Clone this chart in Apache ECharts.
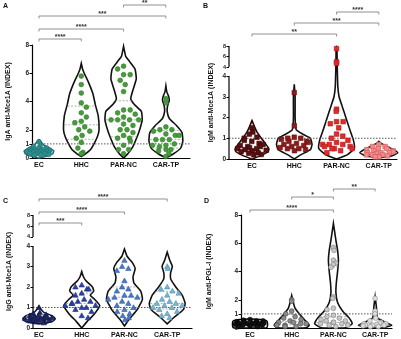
<!DOCTYPE html>
<html><head><meta charset="utf-8">
<script src="https://cdn.jsdelivr.net/npm/echarts@6/dist/echarts.min.js"></script>
<style>html,body{margin:0;padding:0;background:#fff}#c{width:401px;height:339px}</style>
</head><body><div id="c"></div>
<script>
// ---------- data ----------
const categories = ['EC', 'HHC', 'PAR-NC', 'CAR-TP'];
const panelLetters = ['A', 'B', 'C', 'D'];
const yTitles = ['IgA anti-Mce1A (INDEX)', 'IgM anti-Mce1A (INDEX)', 'IgG anti-Mce1A (INDEX)', 'IgM anti-PGL-I (INDEX)'];
const cutoff = 1;
const yTicksPlain = [0, 1, 2, 4, 6, 8];
const yTicksLower = [0, 1, 2, 3, 4];
const yTicksUpper = [4, 6, 8];

// Panel A: IgA anti-Mce1A
const aEC  = [1.15, 0.85, 0.8, 0.72, 0.68, 0.62, 0.6, 0.57, 0.55, 0.52, 0.5, 0.48, 0.46, 0.44, 0.42, 0.4, 0.38, 0.35, 0.33, 0.3, 0.28, 0.25, 0.22, 0.2];
const aHHC = [5.8, 5.2, 4.6, 3.9, 3.6, 3.2, 2.9, 2.6, 2.5, 2.2, 2.0, 1.9, 1.6, 1.4, 1.1, 0.7, 0.4, 0.3];
const aPAR = [6.5, 6.3, 5.9, 5.9, 5.5, 5.2, 4.7, 3.4, 3.4, 3.2, 3.1, 2.9, 2.7, 2.7, 2.7, 2.7, 2.4, 2.3, 2.0, 2.0, 1.8, 1.6, 1.4, 1.4, 1.2, 0.9, 0.6, 0.6, 0.3];
const aCAR = [4.2, 3.9, 2.2, 2.0, 2.0, 1.9, 1.7, 1.6, 1.6, 1.3, 1.3, 1.3, 1.0, 0.9, 0.9, 0.8, 0.6, 0.6, 0.5, 0.3, 0.1];
// violin outlines: [value, half width in category units]
const aECViolin  = [[0,0],[0.1,0.15],[0.3,0.32],[0.5,0.35],[0.7,0.25],[0.9,0.12],[1.1,0.06],[1.3,0]];
const aHHCViolin = [[0.1,0],[0.3,0.1],[0.6,0.22],[1.0,0.3],[1.5,0.38],[2.0,0.42],[3.0,0.4],[3.8,0.33],[4.5,0.28],[5.0,0.22],[5.5,0.15],[6.0,0.07],[6.3,0.03],[6.7,0]];
const aPARViolin = [[0,0],[0.3,0.1],[0.8,0.22],[1.5,0.32],[2.0,0.38],[2.7,0.44],[3.3,0.42],[3.8,0.25],[4.2,0.17],[4.8,0.22],[5.6,0.3],[6.3,0.27],[6.8,0.15],[7.2,0.05],[7.6,0.02],[7.9,0]];
const aCARViolin = [[0,0],[0.3,0.18],[0.7,0.35],[1.2,0.4],[1.8,0.38],[2.3,0.25],[2.8,0.08],[3.3,0.03],[3.7,0.04],[4.1,0.08],[4.4,0.06],[4.7,0.02],[5.1,0]];
const aBrackets = [[0,1,'****'],[0,2,'****'],[0,3,'***'],[2,3,'**']];

// Panel B: IgM anti-Mce1A
const bEC  = [1.5, 1.3, 1.2, 1.05, 1.0, 0.9, 0.85, 0.75, 0.7, 0.65, 0.6, 0.6, 0.55, 0.5, 0.5, 0.45, 0.42, 0.4, 0.35, 0.3, 0.28, 0.22, 0.2];
const bHHC = [3.2, 1.6, 1.05, 1.0, 1.0, 0.95, 0.85, 0.85, 0.8, 0.75, 0.7, 0.65, 0.6, 0.55, 0.5, 0.5, 0.45, 0.4];
const bPAR = [7.5, 5.0, 4.7, 2.4, 2.3, 1.8, 1.8, 1.7, 1.5, 1.2, 1.1, 1.0, 0.9, 0.8, 0.7, 0.7, 0.7, 0.6, 0.6, 0.5, 0.5, 0.5, 0.4, 0.3];
const bCAR = [0.7, 0.6, 0.6, 0.5, 0.5, 0.45, 0.4, 0.4, 0.35, 0.3, 0.3, 0.3, 0.25, 0.2, 0.2, 0.2, 0.15, 0.1, 0.1];
const bECViolin  = [[0,0],[0.15,0.2],[0.35,0.38],[0.5,0.4],[0.7,0.33],[1.0,0.22],[1.3,0.12],[1.6,0.05],[1.85,0]];
const bHHCViolin = [[0,0],[0.2,0.15],[0.45,0.38],[0.7,0.42],[1.0,0.38],[1.2,0.2],[1.4,0.05],[1.6,0.03],[2.0,0.02],[3.0,0.02],[3.6,0]];
const bPARViolin = [[0,0],[0.2,0.25],[0.5,0.42],[0.9,0.4],[1.5,0.3],[2.0,0.22],[2.5,0.14],[3.0,0.06],[3.5,0.03],[4.5,0.015],[7.6,0.01],[7.8,0]];
const bCARViolin = [[0.05,0],[0.15,0.3],[0.3,0.45],[0.45,0.35],[0.6,0.2],[0.75,0.05],[0.85,0]];
const bBrackets = [[0,2,'**'],[1,3,'***'],[2,3,'****']];

// Panel C: IgG anti-Mce1A
const cEC  = [1.0, 0.75, 0.7, 0.65, 0.6, 0.6, 0.55, 0.55, 0.5, 0.5, 0.5, 0.47, 0.45, 0.45, 0.42, 0.4, 0.4, 0.35, 0.35, 0.3, 0.3, 0.25];
const cHHC = [2.1, 2.0, 1.9, 1.9, 1.7, 1.6, 1.4, 1.3, 1.3, 1.2, 1.2, 1.1, 1.1, 1.0, 1.0, 0.9, 0.8, 0.6, 0.5];
const cPAR = [3.3, 3.0, 2.9, 2.8, 2.3, 2.0, 1.9, 1.8, 1.6, 1.6, 1.5, 1.5, 1.4, 1.3, 1.2, 1.1, 1.0, 0.9, 0.8, 0.7, 0.6, 0.5, 0.4];
const cCAR = [3.0, 2.9, 2.0, 1.9, 1.8, 1.7, 1.6, 1.4, 1.3, 1.2, 1.2, 1.1, 1.1, 1.0, 1.0, 0.9, 0.8, 0.7, 0.6, 0.5];
const cECViolin  = [[0.2,0],[0.3,0.3],[0.45,0.38],[0.6,0.3],[0.75,0.12],[0.9,0.05],[1.05,0]];
const cHHCViolin = [[0,0],[0.3,0.12],[0.7,0.3],[1.1,0.42],[1.4,0.3],[1.6,0.2],[1.8,0.28],[2.0,0.25],[2.3,0.1],[2.5,0.04],[2.75,0]];
const cPARViolin = [[0.1,0],[0.4,0.1],[0.9,0.3],[1.4,0.42],[1.8,0.38],[2.2,0.22],[2.5,0.2],[2.9,0.25],[3.2,0.18],[3.5,0.06],[3.85,0]];
const cCARViolin = [[0.2,0],[0.5,0.15],[0.9,0.38],[1.2,0.42],[1.6,0.35],[2.0,0.2],[2.4,0.08],[2.7,0.08],[3.0,0.12],[3.3,0.06],[3.7,0]];
const cBrackets = [[0,1,'***'],[0,2,'****'],[0,3,'****']];

// Panel D: IgM anti-PGL-I
const dEC  = [0.6, 0.55, 0.5, 0.5, 0.45, 0.4, 0.4, 0.4, 0.35, 0.35, 0.3, 0.3, 0.3, 0.25, 0.25, 0.2, 0.2, 0.15, 0.1, 0.1];
const dHHC = [2.0, 1.9, 1.2, 1.0, 0.8, 0.7, 0.6, 0.5, 0.4, 0.4, 0.3, 0.3, 0.2, 0.2, 0.1, 0.1];
const dPAR = [5.7, 5.5, 4.8, 4.6, 4.5, 4.3, 2.2, 2.1, 1.4, 1.3, 0.9, 0.8, 0.7, 0.6, 0.5, 0.5, 0.4, 0.4, 0.3, 0.3, 0.2, 0.2, 0.1];
const dCAR = [2.1, 1.2, 1.0, 0.7, 0.5, 0.4, 0.35, 0.3, 0.3, 0.25, 0.2, 0.2, 0.2, 0.15, 0.1, 0.1];
const dECViolin  = [[0,0],[0.02,0.4],[0.3,0.42],[0.5,0.4],[0.6,0.25],[0.65,0]];
const dHHCViolin = [[0,0],[0.02,0.35],[0.2,0.42],[0.6,0.3],[1.0,0.18],[1.4,0.08],[1.8,0.04],[2.3,0]];
const dPARViolin = [[0,0],[0.02,0.3],[0.3,0.45],[0.7,0.38],[1.2,0.22],[1.8,0.1],[2.5,0.06],[3.2,0.07],[4.0,0.1],[4.8,0.12],[5.5,0.1],[6.2,0.06],[6.8,0.03],[7.4,0]];
const dCARViolin = [[0,0],[0.02,0.2],[0.2,0.4],[0.4,0.25],[0.7,0.06],[1.0,0.04],[1.5,0.03],[2.2,0]];
const dBrackets = [[0,2,'****'],[1,2,'*'],[2,3,'**']];

// ---------- styles / layout ----------
const panels = [
  { groups:[aEC,aHHC,aPAR,aCAR], violins:[aECViolin,aHHCViolin,aPARViolin,aCARViolin], brackets:aBrackets,
    shape:'circle', fill:['#2f8f8f','#489a3c','#489a3c','#489a3c'], edge:['#1f6f6f','#2f7a2a','#2f7a2a','#2f7a2a'],
    vline:['#1f6f6f','#111','#111','#111'], qline:['#bfe','#8a8','#8a8','#8a8'] },
  { groups:[bEC,bHHC,bPAR,bCAR], violins:[bECViolin,bHHCViolin,bPARViolin,bCARViolin], brackets:bBrackets,
    shape:'rect', fill:['#5a1010','#8e1b1b','#e12a2a','#f28a8a'], edge:['#3a0808','#6a1010','#b01818','#d05a5a'],
    vline:['#2a0505','#111','#111','#111'], qline:['#fff','#fff','#fff','#fff'] },
  { groups:[cEC,cHHC,cPAR,cCAR], violins:[cECViolin,cHHCViolin,cPARViolin,cCARViolin], brackets:cBrackets,
    shape:'tri', fill:['#1c2462','#2c40a8','#4c78c4','#78b6cf'], edge:['#10163f','#1c2c80','#2c5aa0','#4a90b0'],
    vline:['#10163f','#111','#111','#111'], qline:['#fff','#99a','#99a','#99a'] },
  { groups:[dEC,dHHC,dPAR,dCAR], violins:[dECViolin,dHHCViolin,dPARViolin,dCARViolin], brackets:dBrackets,
    shape:'circle', fill:['#111','#8a8a8a','#c8c8c8','#dedede'], edge:['#000','#444','#777','#888'],
    vline:['#000','#111','#111','#111'], qline:['#fff','#999','#999','#999'] }
];
const layout = [
  { left:32,  top:45,  width:158, height:113, xMin:-0.165, xMax:3.57, brk:null, nameGap:20, bracketPx:[39,29,16,5], letter:[3,3] },
  { left:229, top:46,  width:168, height:113, xMin:-0.544, xMax:3.43, brk:{at:4,gap:0.434,ratio:0.253}, nameGap:14, bracketPx:[34,23,12], letter:[203,3] },
  { left:33,  top:215, width:159, height:113, xMin:-0.14,  xMax:3.58, brk:{at:4,gap:0.439,ratio:0.268}, nameGap:20, bracketPx:[223,212,199], letter:[3,198] },
  { left:241, top:215, width:151, height:113, xMin:-0.216, xMax:3.405, brk:null, nameGap:28, bracketPx:[210,197,189], letter:[204,198] }
];

const FONT = 'Liberation Sans, Arial, sans-serif';

function makeT(brk) {
  return v => (!brk || v <= brk.at) ? v : brk.at + brk.gap + (v - brk.at) * brk.ratio;
}
function interp(prof, v) {
  if (v <= prof[0][0]) return prof[0][1];
  for (let i = 1; i < prof.length; i++) {
    if (v <= prof[i][0]) {
      const [v0, w0] = prof[i-1], [v1, w1] = prof[i];
      return w0 + (w1 - w0) * (v - v0) / (v1 - v0);
    }
  }
  return prof[prof.length-1][1];
}
function quantile(arr, q) {
  const s = arr.slice().sort((a,b)=>a-b);
  const pos = (s.length + 1) * q - 1;
  const lo = Math.max(0, Math.floor(pos)), hi = Math.min(s.length-1, Math.ceil(pos));
  return s[lo] + (s[hi] - s[lo]) * (pos - lo);
}
// beeswarm placement in pixel space (deterministic)
function swarm(items, maxW, d) {
  const placed = [];
  items.forEach((it, k) => {
    const forb = [];
    placed.forEach(p => {
      const dy = Math.abs(p.y - it.y);
      if (dy < d) { const w = Math.sqrt(d*d - dy*dy); forb.push([p.x - w, p.x + w]); }
    });
    const cands = [0];
    forb.forEach(([a, b]) => { cands.push(a, b); });
    cands.sort((a, b) => Math.abs(a) - Math.abs(b) || ((k % 2) ? a - b : b - a));
    let x = null;
    for (const c of cands) {
      if (forb.every(([a, b]) => c <= a + 1e-6 || c >= b - 1e-6)) { x = c; break; }
    }
    const lim = Math.max(0, maxW(it) - 1.5);
    if (x === null || Math.abs(x) > lim) {
      const f = ((k * 0.618034) % 1) * 2 - 1;
      x = f * lim;
    }
    placed.push({ x, y: it.y });
    it.x = x;
  });
}

const grids = [], xAxes = [], yAxes = [], series = [], graphics = [];

panels.forEach((p, pi) => {
  const L = layout[pi];
  const T = makeT(L.brk);
  const yMax = T(8);
  grids.push({ left:L.left, top:L.top, width:L.width, height:L.height, containLabel:false, outerBoundsMode:'none' });

  let tickPos = [], tickTxt = [];
  if (L.brk) {
    yTicksLower.forEach(v => { tickPos.push(T(v)); tickTxt.push(String(v)); });
    yTicksUpper.forEach(v => { tickPos.push(L.brk.at + L.brk.gap + (v - L.brk.at) * L.brk.ratio); tickTxt.push('{s|' + v + '}'); });
  } else {
    yTicksPlain.forEach(v => { tickPos.push(T(v)); tickTxt.push(String(v)); });
  }
  const lab = val => { let bi = 0, bd = 1e9; tickPos.forEach((t,i)=>{ const d=Math.abs(t-val); if (d<bd){bd=d;bi=i;} }); return tickTxt[bi]; };

  xAxes.push({ type:'value', gridIndex:pi, min:L.xMin, max:L.xMax, splitLine:{show:false},
    axisLine:{ show:true, lineStyle:{ color:'#000', width:1.2 } },
    axisTick:{ show:false },
    axisLabel:{ customValues:[0,1,2,3], formatter: v => categories[Math.round(v)], margin:4,
      fontSize:7, fontWeight:'bold', color:'#111', fontFamily:FONT } });
  yAxes.push({ type:'value', gridIndex:pi, min:0, max:yMax, splitLine:{show:false},
    name: yTitles[pi], nameLocation:'middle', nameGap:L.nameGap, nameRotate:90,
    nameTextStyle:{ fontSize:7, fontWeight:'bold', color:'#111', fontFamily:FONT },
    axisLine:{ show: !L.brk, onZero:false, lineStyle:{ color:'#000', width:1.2 } },
    axisTick:{ show:true, length:2.5, customValues: tickPos, lineStyle:{ color:'#000', width:1 } },
    axisLabel:{ customValues: tickPos, formatter: lab, margin:3, fontSize:6.5, fontWeight:'bold', color:'#222', fontFamily:FONT,
      rich:{ s:{ fontSize:5.5, fontWeight:'bold', color:'#222', fontFamily:FONT } } } });

  const gIdx = [[0,0],[1,0],[2,0],[3,0]];

  // violins
  series.push({ type:'custom', xAxisIndex:pi, yAxisIndex:pi, clip:false, z:2, data:gIdx,
    renderItem: (params, api) => {
      const g = api.value(0);
      const prof = p.violins[g];
      const left = [], right = [];
      prof.forEach(([v, hw]) => { left.push(api.coord([g - hw, T(v)])); right.push(api.coord([g + hw, T(v)])); });
      const pts = left.concat(right.reverse());
      const children = [{ type:'polygon', shape:{ points: pts, smooth: 0.15 },
        style:{ fill:'#fff', stroke: p.vline[g], lineWidth:1.6 } }];
      [0.25, 0.5, 0.75].forEach(q => {
        const qv = quantile(p.groups[g], q);
        const hw = interp(prof, qv) * 0.95;
        const a = api.coord([g - hw, T(qv)]), b = api.coord([g + hw, T(qv)]);
        children.push({ type:'line', shape:{ x1:a[0], y1:a[1], x2:b[0], y2:b[1] },
          style:{ stroke: p.qline[g], lineWidth:0.8, lineDash:[2,1.5] }, z2:5 });
      });
      return { type:'group', children };
    } });

  // cutoff line, axis segments, brackets (annotations)
  series.push({ type:'custom', xAxisIndex:pi, yAxisIndex:pi, clip:false, z:3, data:[[0,0]],
    renderItem: (params, api) => {
      const children = [];
      const a = api.coord([L.xMin, T(cutoff)]), b = api.coord([L.xMax, T(cutoff)]);
      children.push({ type:'line', shape:{ x1:a[0], y1:a[1], x2:b[0], y2:b[1] },
        style:{ stroke:'#555', lineWidth:1, lineDash:[1.5,1.5] } });
      if (L.brk) {
        const segs = [[0, T(L.brk.at)], [L.brk.at + L.brk.gap, T(8)]];
        segs.forEach(([s0, s1]) => {
          const c0 = api.coord([L.xMin, s0]), c1 = api.coord([L.xMin, s1]);
          children.push({ type:'line', shape:{ x1:c0[0], y1:c0[1], x2:c1[0], y2:c1[1] }, style:{ stroke:'#000', lineWidth:1.2 } });
        });
      }
      p.brackets.forEach(([f, t, lbl], k) => {
        const y = L.bracketPx[k];
        const x1 = api.coord([f, 0])[0], x2 = api.coord([t, 0])[0];
        children.push({ type:'polyline', shape:{ points:[[x1, y+2.5],[x1, y],[x2, y],[x2, y+2.5]] },
          style:{ stroke:'#777', lineWidth:0.8, fill:null } });
        children.push({ type:'text', x:(x1+x2)/2, y:y-1.5,
          style:{ text:lbl, fill:'#333', font:'bold 7px ' + FONT, textAlign:'center', textVerticalAlign:'middle' } });
      });
      return { type:'group', children };
    } });

  // data points
  series.push({ type:'custom', xAxisIndex:pi, yAxisIndex:pi, clip:false, z:4, data:gIdx,
    renderItem: (params, api) => {
      const g = api.value(0);
      const prof = p.violins[g];
      const cx = api.coord([g, 0])[0];
      const unit = api.coord([g + 1, 0])[0] - cx;
      const items = p.groups[g].map(v => ({ v, y: api.coord([g, T(v)])[1] })).sort((a,b)=>a.y-b.y);
      swarm(items, it => interp(prof, it.v) * unit, 6.6);
      const children = [];
      items.forEach(it => {
        const x = cx + it.x, y = it.y;
        const style = { fill: p.fill[g], stroke: p.edge[g], lineWidth:0.6 };
        if (p.shape === 'circle') children.push({ type:'circle', shape:{ cx:x, cy:y, r:2.4 }, style });
        else if (p.shape === 'rect') children.push({ type:'rect', shape:{ x:x-2.3, y:y-2.3, width:4.6, height:4.6 }, style });
        else children.push({ type:'polygon', shape:{ points:[[x, y-2.8],[x+2.7, y+2],[x-2.7, y+2]] }, style });
      });
      return { type:'group', children };
    } });

  graphics.push({ type:'text', left:L.letter[0], top:L.letter[1],
    style:{ text:panelLetters[pi], font:'bold 7px ' + FONT, fill:'#111' } });
});

const chart = echarts.init(document.getElementById('c'), null, { renderer:'canvas' });
chart.setOption({ animation:false, backgroundColor:'#fff', grid:grids, xAxis:xAxes, yAxis:yAxes, series, graphic:graphics });
</script></body></html>
